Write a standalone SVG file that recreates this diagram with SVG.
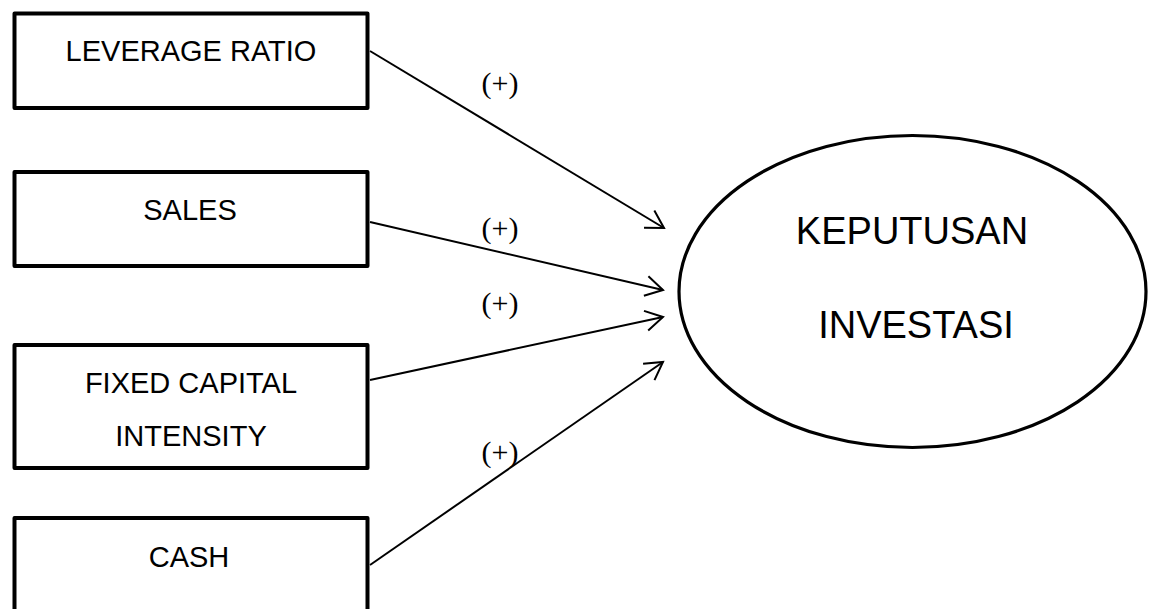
<svg xmlns="http://www.w3.org/2000/svg" width="1153" height="609" viewBox="0 0 1153 609">
<style>
.box{fill:#fff;stroke:#000;stroke-width:4;stroke-linejoin:round}
.ell{fill:#fff;stroke:#000;stroke-width:3.2}
.t{font-family:"Liberation Sans",Arial,sans-serif;font-size:29px;fill:#000;text-anchor:middle}
.tb{font-family:"Liberation Sans",Arial,sans-serif;font-size:38px;fill:#000;text-anchor:middle}
.lbl{font-family:"Liberation Serif","Times New Roman",serif;font-size:30px;fill:#000;text-anchor:middle}
.c{stroke:#000;stroke-width:2;fill:none;marker-end:url(#arr)}
</style>
<defs>
<marker id="arr" markerUnits="userSpaceOnUse" viewBox="-20 -12 22 24" refX="0" refY="0" markerWidth="22" markerHeight="24" orient="auto" overflow="visible">
<path d="M-17.3,-10 L0,0 L-17.3,10" fill="none" stroke="#000" stroke-width="2"/>
</marker>
</defs>
<rect width="1153" height="609" fill="#fff"/>
<g id="connectors">
<line class="c" x1="370" y1="51" x2="664" y2="228"/>
<line class="c" x1="370" y1="222" x2="663" y2="290"/>
<line class="c" x1="370" y1="380" x2="663" y2="317"/>
<line class="c" x1="370" y1="565" x2="663" y2="362"/>
<text class="lbl" x="500" y="93">(+)</text>
<text class="lbl" x="500" y="238">(+)</text>
<text class="lbl" x="500" y="313">(+)</text>
<text class="lbl" x="500" y="462">(+)</text>
</g>
<g id="leverage">
<rect class="box" x="14.5" y="13.5" width="353" height="94.5"/>
<text class="t" x="191" y="61">LEVERAGE RATIO</text>
</g>
<g id="sales">
<rect class="box" x="14.5" y="172" width="353" height="94"/>
<text class="t" x="190" y="220">SALES</text>
</g>
<g id="fci">
<rect class="box" x="14.5" y="345" width="353" height="123"/>
<text class="t" x="191" y="393">FIXED CAPITAL</text>
<text class="t" x="191" y="446">INTENSITY</text>
</g>
<g id="cash">
<rect class="box" x="14.5" y="518" width="353" height="110"/>
<text class="t" x="189" y="567">CASH</text>
</g>
<g id="keputusan">
<ellipse class="ell" cx="912.5" cy="291.5" rx="233.5" ry="156"/>
<text class="tb" x="912" y="244">KEPUTUSAN</text>
<text class="tb" x="916" y="338">INVESTASI</text>
</g>
</svg>
